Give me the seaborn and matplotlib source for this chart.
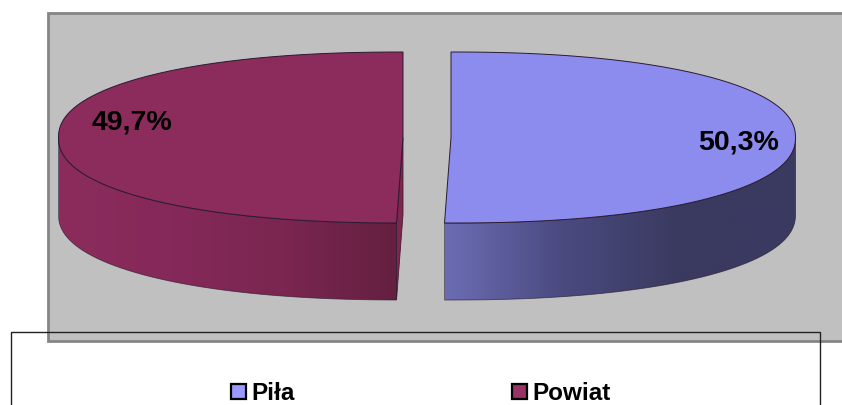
import numpy as np
import matplotlib
matplotlib.use('Agg')
import matplotlib.pyplot as plt
from matplotlib.patches import Rectangle, Polygon, Patch
import seaborn as sns

categories = ['Piła', 'Powiat']
values = [50.3, 49.7]
labels = ['50,3%', '49,7%']

sns.set_theme(style='white')
plt.rcParams['font.family'] = ['Liberation Sans', 'DejaVu Sans']

top_colors = ['#8C8CEE', '#8B2C5C']
legend_colors = ['#9999FF', '#993366']
wall_colors = [['#6C6CB4', '#4A4A80', '#3A3A60', '#3A3A62'],
               ['#8B2C5C', '#85295A', '#7A2650', '#642040']]
centers = [451, 403]
label_pos = [(739, 142), (132, 123)]
rx, ry = 344.5, 85.5
cy = 137.5
depth = 77
n = 2.2  # the pie outline is a bit squarer than an ellipse


def arc(cx, t0, t1, dy=0):
    t = np.radians(np.linspace(t0, t1, 200))
    s, c = np.sin(t), np.cos(t)
    r = (np.abs(s) ** n + np.abs(c) ** n) ** (-1 / n)
    return np.column_stack([cx + rx * r * s, cy + dy - ry * r * c])


fig, ax = plt.subplots(figsize=(8.42, 4.05), dpi=100)
fig.subplots_adjust(0, 0, 1, 1)
ax.set_axis_off()

ax.add_patch(Rectangle((48, 12.5), 820, 328, fc='#C0C0C0', ec='#858585', lw=2, zorder=1))

angles = np.cumsum([0] + values) / sum(values) * 360
edge = '#2A1A30'
for i, val in enumerate(values):
    cx = centers[i]
    t0, t1 = angles[i], angles[i + 1]
    if i == 1:
        # cut face of the left slice, seen through the gap
        end = arc(cx, t0, t0 + 0.01)[0]
        ax.add_patch(Polygon([(cx, cy), (cx, cy + depth), end + (0, depth), end],
                             fc='#7C2650', ec='#4A1A38', lw=0.6, zorder=2))
    # front wall
    w0, w1 = (90, t1) if i == 0 else (t0, 270)
    up = arc(cx, w0, w1)
    low = arc(cx, w0, w1, depth)
    wall = Polygon(np.vstack([up, low[::-1]]), fc='none', ec='none', zorder=3)
    ax.add_patch(wall)
    xs = np.r_[up[:, 0], low[:, 0]]
    grad = np.linspace(0, 1, 256).reshape(1, -1)
    cmap = sns.blend_palette(wall_colors[i], as_cmap=True)
    im = ax.imshow(grad, extent=[xs.min(), xs.max(), cy + ry + depth, cy],
                   cmap=cmap, aspect='auto', zorder=3)
    im.set_clip_path(wall)
    ax.add_patch(Polygon(np.vstack([up, low[::-1]]), fc='none', ec=edge, lw=0.6, alpha=0.7, zorder=4))
    # top face
    top = np.vstack([[(cx, cy)], arc(cx, t0, t1)])
    ax.add_patch(Polygon(top, fc=top_colors[i], ec=edge, lw=0.7, zorder=5))
    ax.text(*label_pos[i], labels[i], ha='center', va='center', fontsize=20.5,
            fontweight='bold', color='black', zorder=6)

ax.add_patch(Rectangle((11, 332), 809, 100, fc='none', ec='#222222', lw=1, zorder=7))

handles = [Patch(fc=c, ec='black', lw=1.6, label=name) for c, name in zip(legend_colors, categories)]
ax.legend(handles=handles, ncol=2, frameon=False, loc='center', labelcolor='black',
          prop={'weight': 'bold', 'size': 17.5}, handlelength=0.62, handleheight=0.62,
          handletextpad=0.22, columnspacing=8.95,
          bbox_to_anchor=(420.5 / 842, 1 - 393.5 / 405), borderpad=0, labelspacing=0)

ax.set_xlim(0, 842)
ax.set_ylim(405, 0)
fig.savefig('out.png', dpi=100, facecolor='white')
